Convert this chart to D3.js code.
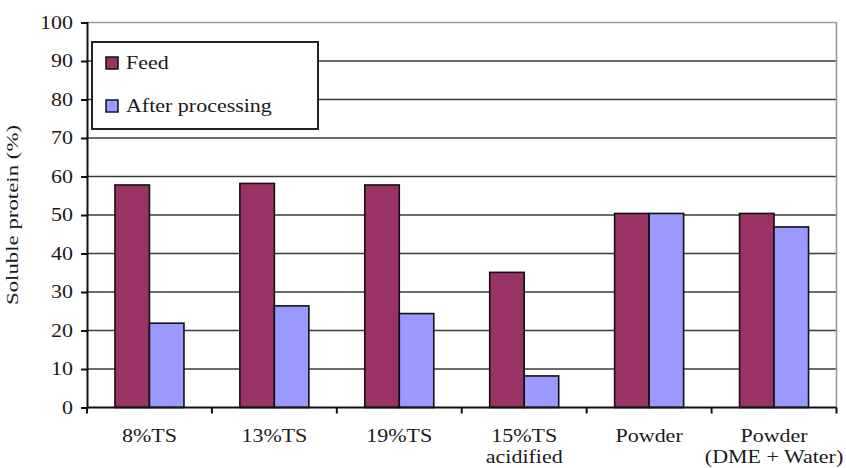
<!DOCTYPE html>
<html><head><meta charset="utf-8">
<script src="https://cdn.jsdelivr.net/npm/d3@7"></script>
<style>body{margin:0;background:#fff}svg{display:block}
text{font-family:"Times New Roman",Times,"Liberation Serif",Tinos,"Nimbus Roman","Nimbus Roman No9 L","DejaVu Serif",serif;fill:#1a1a1a}</style>
</head><body>
<svg id="c" width="846" height="468"></svg>
<script>
const categories = ["8%TS","13%TS","19%TS","15%TS\nacidified","Powder","Powder\n(DME + Water)"];
const seriesNames = ["Feed","After processing"];
const feed = [57.8,58.2,57.8,35.1,50.4,50.4];
const after = [21.9,26.4,24.4,8.2,50.4,46.9];
const yTicks = [0,10,20,30,40,50,60,70,80,90,100];
const colors = ["#993366","#9999ff"];

const svg = d3.select("#c");
const L=87, R=836.5, T=22.5, B=407.5;
const FS = 18;
// measure font to get horizontal stretch so "After processing" is ~146px wide
const probe = svg.append("text").attr("font-size",FS).text("After processing");
const SX = 146 / probe.node().getComputedTextLength();
probe.remove();

const x = d3.scaleBand().domain(categories).range([L,R]);
const y = d3.scaleLinear().domain([0,100]).range([B,T]);

// gridlines
svg.append("g").selectAll("line").data(yTicks.filter(d=>d>0&&d<100)).join("line")
  .attr("x1",L).attr("x2",R).attr("y1",d=>y(d)).attr("y2",d=>y(d))
  .attr("stroke","#3a3a3a").attr("stroke-width",1.6);
// top & right border
svg.append("path").attr("d",`M${L},${y(100)}H${R}V${B}`).attr("fill","none")
  .attr("stroke","#9a9a9a").attr("stroke-width",1.6);

// bars
const bw = 34.5;
[feed, after].forEach((vals,si)=>{
  svg.append("g").selectAll("rect").data(vals).join("rect")
    .attr("x",(d,i)=>x(categories[i])+x.bandwidth()/2 - bw + si*bw)
    .attr("y",d=>y(d)).attr("width",bw).attr("height",d=>B-y(d))
    .attr("fill",colors[si]).attr("stroke","#111").attr("stroke-width",1.6);
});

// y axis
const ya = svg.append("g").attr("transform",`translate(${L},0)`)
  .call(d3.axisLeft(y).tickValues(yTicks).tickSize(6).tickFormat(""));
ya.select(".domain").attr("stroke","#111").attr("stroke-width",2);
ya.selectAll(".tick line").attr("stroke","#111").attr("stroke-width",2);
svg.append("g").selectAll("text").data(yTicks).join("text")
  .attr("transform",d=>`translate(73,${y(d)+6}) scale(${SX},1)`)
  .attr("text-anchor","end").attr("font-size",FS).text(d=>d);

// x axis
const xa = svg.append("g").attr("transform",`translate(0,${B})`);
xa.append("line").attr("x1",L).attr("x2",R).attr("stroke","#111").attr("stroke-width",2);
const bounds = categories.map(c=>x(c)).concat([R]);
xa.selectAll("line.tk").data(bounds).join("line").attr("class","tk")
  .attr("x1",d=>d).attr("x2",d=>d).attr("y1",0).attr("y2",6)
  .attr("stroke","#111").attr("stroke-width",2);
xa.selectAll("text").data(categories).join("text")
  .attr("transform",d=>`translate(${x(d)+x.bandwidth()/2},34) scale(${SX},1)`)
  .attr("text-anchor","middle").attr("font-size",FS)
  .each(function(d){
    const t=d3.select(this);
    d.split("\n").forEach((s,i)=>t.append("tspan").attr("x",0).attr("dy",i?22:0).text(s));
  });

// y label
svg.append("text").attr("transform",`translate(18,${(T+B)/2}) rotate(-90)`)
  .attr("text-anchor","middle").attr("font-size",16)
  .attr("textLength",180).attr("lengthAdjust","spacingAndGlyphs")
  .text("Soluble protein (%)");

// legend
const lg = svg.append("g");
lg.append("rect").attr("x",92).attr("y",42).attr("width",226).attr("height",87)
  .attr("fill","#fff").attr("stroke","#222").attr("stroke-width",2);
seriesNames.forEach((n,i)=>{
  const cy = 63 + i*43;
  lg.append("rect").attr("x",106).attr("y",cy-6).attr("width",12).attr("height",12)
    .attr("fill",colors[i]).attr("stroke","#111").attr("stroke-width",1.5);
  lg.append("text").attr("transform",`translate(126,${cy+6}) scale(${SX},1)`)
    .attr("font-size",FS).text(n);
});
</script>
</body></html>
